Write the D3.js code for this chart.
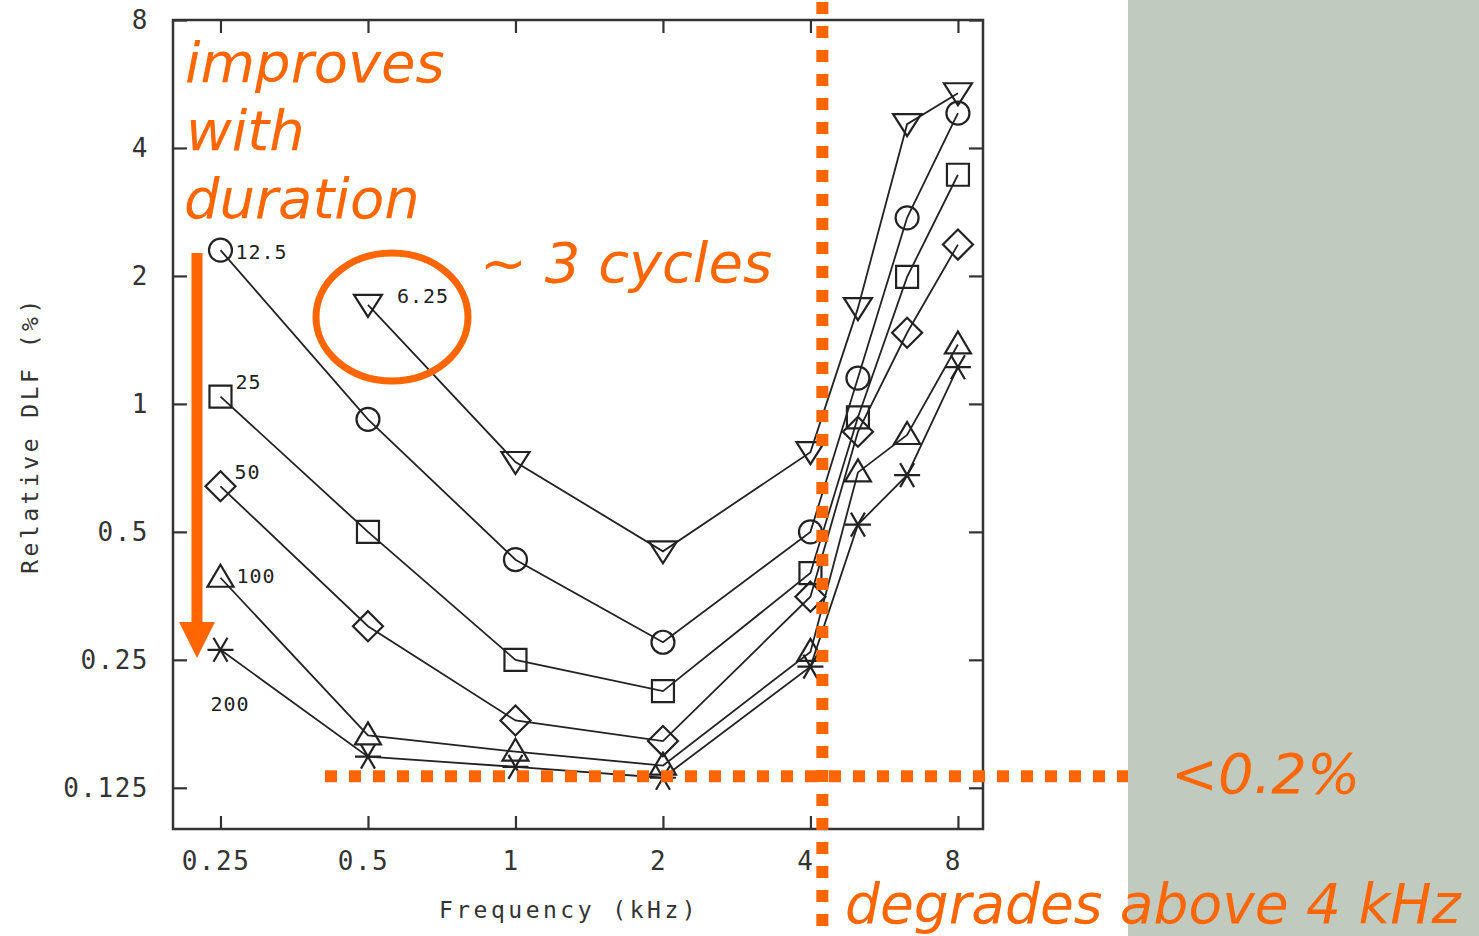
<!DOCTYPE html>
<html>
<head>
<meta charset="utf-8">
<script src="https://cdnjs.cloudflare.com/ajax/libs/d3/7.8.5/d3.min.js"></script>
<style>
  body { margin: 0; background: #fff; }
  svg { display: block; }
  .tick text { font-family: 'DejaVu Sans Mono', monospace; font-size: 26px; fill: #333; letter-spacing: 1.5px; }
  .note { font-family: 'DejaVu Sans', Verdana, sans-serif; font-style: italic; fill: #ff6600; font-size: 56px; }
</style>
</head>
<body>
<svg width="1479" height="936"></svg>
<script>
(function () {
    'use strict'

    // frequencies in kHz
    const freqs = [0.25, 0.5, 1, 2, 4, 5, 6.3, 8];
    const xTicks = [0.25, 0.5, 1, 2, 4, 8];
    const yTicks = [0.125, 0.25, 0.5, 1, 2, 4, 8];

    // duration in cycles, one series each
    const durations = ['6.25', '12.5', '25', '50', '100', '200'];
    const symbols = ['triDown', 'circle', 'square', 'diamond', 'triUp', 'star'];

    // relative DLF (%), null = not measured
    const dlf625 = [null, 1.71, 0.73, 0.45, 0.77, 1.68, 4.55, 5.38];
    const dlf125 = [2.30, 0.92, 0.43, 0.275, 0.50, 1.15, 2.74, 4.83];
    const dlf25 = [1.04, 0.50, 0.25, 0.211, 0.40, 0.93, 1.99, 3.46];
    const dlf50 = [0.64, 0.30, 0.18, 0.161, 0.352, 0.86, 1.47, 2.37];
    const dlf100 = [0.39, 0.166, 0.152, 0.141, 0.261, 0.69, 0.845, 1.38];
    const dlf200 = [0.264, 0.148, 0.140, 0.132, 0.241, 0.52, 0.68, 1.22];
    const series = [dlf625, dlf125, dlf25, dlf50, dlf100, dlf200];

    // label offset from the first point of each series
    const labelOffsets = [[29, -2], [15, 9], [15, -8], [14, -7], [16, 5], [-10, 61]];

    const cutFreq = 4.23;     // vertical guide
    const floorDlf = 0.133;   // horizontal guide

    let svg = d3.select('svg'),
        frame = { left: 173, right: 983, top: 20, bottom: 829 };

    let x = d3.scaleLog().base(2)
        .domain([0.2, 9])
        .range([frame.left, frame.right]);

    let y = d3.scaleLog().base(2)
        .domain([0.1, 8])
        .range([frame.bottom, frame.top]);

    // grey panel on the right
    svg.append('rect')
        .attr('x', 1128).attr('y', 0)
        .attr('width', 1479 - 1128).attr('height', 936)
        .attr('fill', '#c1cabe');

    // axes, ticks pointing inward
    svg.append('g')
        .attr('transform', 'translate(0,' + frame.bottom + ')')
        .call(d3.axisBottom(x).tickValues(xTicks).tickFormat(d3.format('')).tickSizeInner(-13).tickSizeOuter(0).tickPadding(23))
        .call(g => g.selectAll('text').attr('dx', -5));

    svg.append('g')
        .attr('transform', 'translate(0,' + frame.top + ')')
        .call(d3.axisTop(x).tickValues(xTicks).tickFormat('').tickSizeInner(-13).tickSizeOuter(0));

    svg.append('g')
        .attr('transform', 'translate(' + frame.left + ',0)')
        .call(d3.axisLeft(y).tickValues(yTicks).tickFormat(d3.format('')).tickSizeInner(-14).tickSizeOuter(0).tickPadding(24));

    svg.append('g')
        .attr('transform', 'translate(' + frame.right + ',0)')
        .call(d3.axisRight(y).tickValues(yTicks).tickFormat('').tickSizeInner(-14).tickSizeOuter(0));

    svg.selectAll('.domain').remove();
    svg.selectAll('.tick line').attr('stroke', '#333').attr('stroke-width', 2.2);

    svg.append('rect')
        .attr('x', frame.left).attr('y', frame.top)
        .attr('width', frame.right - frame.left).attr('height', frame.bottom - frame.top)
        .attr('fill', 'none').attr('stroke', '#333').attr('stroke-width', 2.5);

    // axis titles
    svg.append('text')
        .attr('x', 569).attr('y', 918)
        .attr('text-anchor', 'middle')
        .style('font-family', "'DejaVu Sans Mono', monospace")
        .style('font-size', '23px').style('letter-spacing', '3.5px')
        .attr('fill', '#333')
        .text('Frequency (kHz)');

    svg.append('text')
        .attr('transform', 'translate(38,435) rotate(-90)')
        .attr('text-anchor', 'middle')
        .style('font-family', "'DejaVu Sans Mono', monospace")
        .style('font-size', '23px').style('letter-spacing', '3.5px')
        .attr('fill', '#333')
        .text('Relative DLF (%)');

    // data lines
    let line = d3.line()
        .defined(d => d[1] != null)
        .x(d => x(d[0]))
        .y(d => y(d[1]));

    let symbolPath = {
        circle: 'M-11.5,0a11.5,11.5 0 1,0 23,0a11.5,11.5 0 1,0 -23,0',
        square: 'M-11,-11h22v22h-22z',
        diamond: 'M0,-15L15,0L0,15L-15,0z',
        triUp: 'M0,-13L13,9L-13,9z',
        triDown: 'M-14,-10L14,-10L0,12z',
        star: 'M-13,0H13M-7,-12L7,12M7,-12L-7,12'
    };

    series.forEach(function (vals, i) {
        let pts = freqs.map((f, j) => [f, vals[j]]);

        svg.append('path')
            .datum(pts)
            .attr('fill', 'none')
            .attr('stroke', '#222')
            .attr('stroke-width', 1.8)
            .attr('d', line);

        svg.append('g')
            .selectAll('path')
            .data(pts.filter(d => d[1] != null))
            .enter()
            .append('path')
            .attr('transform', d => 'translate(' + x(d[0]) + ',' + y(d[1]) + ')')
            .attr('d', symbolPath[symbols[i]])
            .attr('fill', 'none')
            .attr('stroke', '#222')
            .attr('stroke-width', 2.2);

        let first = pts.find(d => d[1] != null);
        svg.append('text')
            .attr('x', x(first[0]) + labelOffsets[i][0])
            .attr('y', y(first[1]) + labelOffsets[i][1])
            .style('font-family', "'DejaVu Sans Mono', monospace")
            .style('font-size', '20px').style('letter-spacing', '1px')
            .attr('fill', '#222')
            .text(durations[i]);
    });

    // orange guides
    svg.append('line')
        .attr('x1', x(cutFreq)).attr('x2', x(cutFreq))
        .attr('y1', 2).attr('y2', 936)
        .attr('stroke', '#ff6600').attr('stroke-width', 12)
        .attr('stroke-dasharray', '12 12');

    svg.append('line')
        .attr('x1', 325).attr('x2', 1128)
        .attr('y1', y(floorDlf)).attr('y2', y(floorDlf))
        .attr('stroke', '#ff6600').attr('stroke-width', 12)
        .attr('stroke-dasharray', '12 12');

    // arrow: improves with duration
    svg.append('line')
        .attr('x1', 197).attr('x2', 197)
        .attr('y1', 253).attr('y2', 625)
        .attr('stroke', '#ff6600').attr('stroke-width', 11);

    svg.append('path')
        .attr('d', 'M179,622L215,622L197,658Z')
        .attr('fill', '#ff6600');

    // ellipse round the shortest duration
    svg.append('ellipse')
        .attr('cx', 392).attr('cy', 317)
        .attr('rx', 76).attr('ry', 64)
        .attr('fill', 'none')
        .attr('stroke', '#ff6600').attr('stroke-width', 7);

    // notes
    let notes = [
        ['improves', 185, 82, 56],
        ['with', 186, 150, 56],
        ['duration', 184, 218, 56],
        ['~ 3 cycles', 480, 282, 56],
        ['<0.2%', 1171, 793, 56],
        ['degrades above 4 kHz', 845, 923, 55]
    ];

    svg.selectAll('text.note')
        .data(notes)
        .enter()
        .append('text')
        .attr('class', 'note')
        .attr('x', d => d[1])
        .attr('y', d => d[2])
        .style('font-size', d => d[3] + 'px')
        .text(d => d[0]);

    console.log('chart drawn')
})();
</script>
</body>
</html>
